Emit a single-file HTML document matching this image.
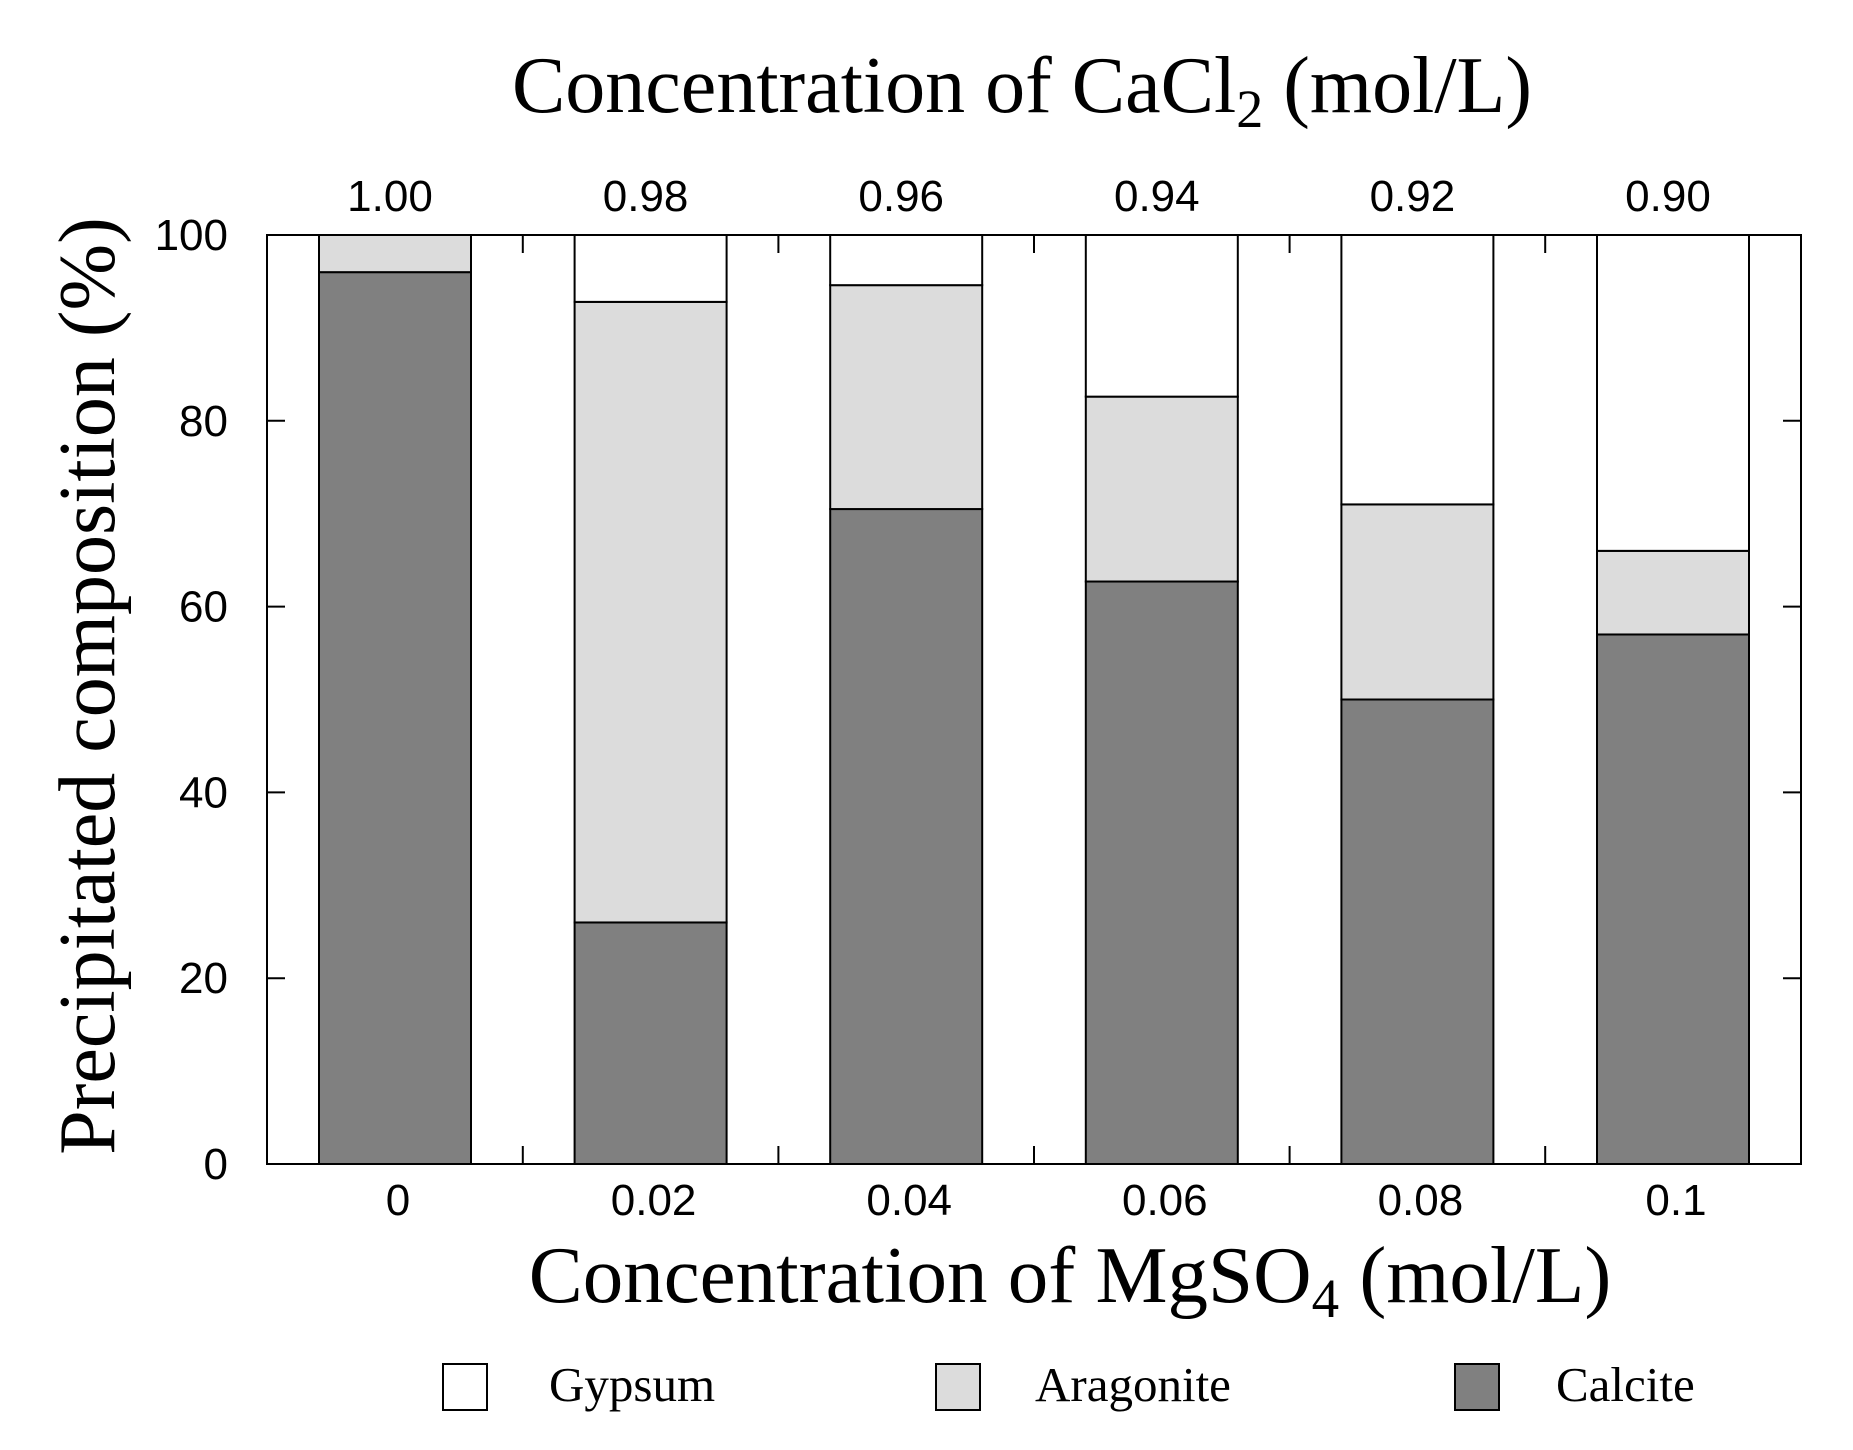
<!DOCTYPE html>
<html><head><meta charset="utf-8"><style>
html,body{margin:0;padding:0;background:#fff;}
svg{display:block;}
.sans{font-family:"Liberation Sans",sans-serif;}
.serif{font-family:"Liberation Serif",serif;}
</style></head><body>
<svg id="chart" width="1853" height="1450" viewBox="0 0 1853 1450">
<g id="bars"></g>
<g id="axes"></g>
<text class="serif" x="1022" y="112" font-size="80" text-anchor="middle">Concentration of CaCl<tspan font-size="54" dy="15">2</tspan><tspan dy="-15"> (mol/L)</tspan></text>
<text class="serif" x="1070" y="1302" font-size="81" text-anchor="middle">Concentration of MgSO<tspan font-size="55" dy="15">4</tspan><tspan dy="-15"> (mol/L)</tspan></text>
<text class="serif" transform="translate(114,686) rotate(-90)" font-size="80" text-anchor="middle">Precipitated composition (%)</text>
<g>
<rect x="443" y="1364" width="44" height="46" fill="#fff" stroke="#000" stroke-width="2"/>
<text class="serif" x="549" y="1401" font-size="49">Gypsum</text>
<rect x="936" y="1364" width="44" height="46" fill="#dcdcdc" stroke="#000" stroke-width="2"/>
<text class="serif" x="1035" y="1401" font-size="49">Aragonite</text>
<rect x="1455" y="1364" width="44" height="46" fill="#808080" stroke="#000" stroke-width="2"/>
<text class="serif" x="1556" y="1401" font-size="49">Calcite</text>
</g>
</svg>
<script>
const categories = ["0","0.02","0.04","0.06","0.08","0.1"];
const topLabels = ["1.00","0.98","0.96","0.94","0.92","0.90"];
const calcite = [96, 26, 70.5, 62.7, 50, 57];
const aragonite = [4, 66.8, 24.1, 19.9, 21, 9];
const gypsum = [0, 7.2, 5.4, 17.4, 29, 34];
const yTicks = [0,20,40,60,80,100];

const NS="http://www.w3.org/2000/svg";
const L=267,R=1801,T=235,B=1164;
const step=255.6, first=395, bw=152;
function xc(i){return first+i*step;}
function y(v){return B-(v/100)*(B-T);}
function mk(tag,attrs,parent){const e=document.createElementNS(NS,tag);for(const k in attrs)e.setAttribute(k,attrs[k]);parent.appendChild(e);return e;}
const bars=document.getElementById('bars'), axes=document.getElementById('axes');
const series=[[calcite,'#808080','calcite'],[aragonite,'#dcdcdc','aragonite'],[gypsum,'#ffffff','gypsum']];
categories.forEach((c,i)=>{
  let base=0;
  series.forEach(([arr,col,nm])=>{
    const v=arr[i];
    if(v>0){
      const r=mk('rect',{x:xc(i)-bw/2,y:y(base+v),width:bw,height:y(base)-y(base+v),fill:col,stroke:'#000','stroke-width':2},bars);
      
      
    }
    base+=v;
  });
  const t=mk('text',{x:xc(i)+3,y:1215,'font-size':44,'text-anchor':'middle',class:'sans'},axes);
  t.textContent=c;
  
  
  const t2=mk('text',{x:xc(i)-5,y:211,'font-size':44,'text-anchor':'middle',class:'sans'},axes);
  t2.textContent=topLabels[i];
  
  
  if(i<categories.length-1){
    const mx=xc(i)+step/2;
    const a=mk('line',{x1:mx,x2:mx,y1:B,y2:B-18,stroke:'#000','stroke-width':2},axes);
    
    
    const b=mk('line',{x1:mx,x2:mx,y1:T,y2:T+18,stroke:'#000','stroke-width':2},axes);
    
    
  }
});
yTicks.forEach(v=>{
  const t=mk('text',{x:228,y:y(v)+15,'font-size':44,'text-anchor':'end',class:'sans'},axes);
  t.textContent=v;
  
  
  const a=mk('line',{x1:L,x2:L+18,y1:y(v),y2:y(v),stroke:'#000','stroke-width':2},axes);
  
  
  const b=mk('line',{x1:R,x2:R-18,y1:y(v),y2:y(v),stroke:'#000','stroke-width':2},axes);
  
  
});
const f=mk('rect',{x:L,y:T,width:R-L,height:B-T,fill:'none',stroke:'#000','stroke-width':2},axes);


</script>
</body></html>
